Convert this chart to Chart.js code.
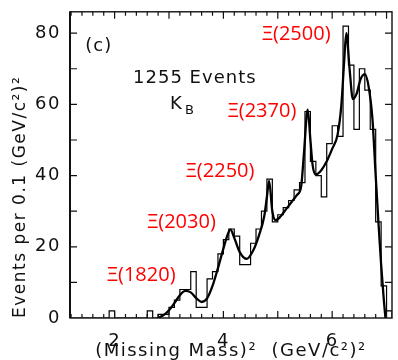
<!DOCTYPE html>
<html>
<head>
<meta charset="utf-8">
<script src="https://cdn.jsdelivr.net/npm/chart.js@4.4.0/dist/chart.umd.min.js"></script>
<style>
  html, body { margin: 0; padding: 0; background: #fff; }
  #wrap { width: 398px; height: 360px; }
</style>
</head>
<body>
<div id="wrap"><canvas id="massChart" width="398" height="360"></canvas></div>
<script>
/* ============= Data: ============= */
// left edge of each 0.1 (GeV/c^2)^2 bin
var binStarts = [1.2, 1.3, 1.4, 1.5, 1.6, 1.7, 1.8, 1.9, 2.0, 2.1,
                 2.2, 2.3, 2.4, 2.5, 2.6, 2.7, 2.8, 2.9, 3.0, 3.1,
                 3.2, 3.3, 3.4, 3.5, 3.6, 3.7, 3.8, 3.9, 4.0, 4.1,
                 4.2, 4.3, 4.4, 4.5, 4.6, 4.7, 4.8, 4.9, 5.0, 5.1,
                 5.2, 5.3, 5.4, 5.5, 5.6, 5.7, 5.8, 5.9, 6.0, 6.1,
                 6.2, 6.3, 6.4, 6.5, 6.6, 6.7, 6.8, 6.9, 7.0];
var binCounts = [0, 0, 0, 0, 0, 0, 0, 2, 0, 0,
                 0, 0, 0, 0, 2, 0, 1, 1, 3, 5,
                 8, 8, 13, 3, 3, 11, 13, 18, 22, 25,
                 23, 15, 15, 21, 25, 30, 39, 27, 29, 31,
                 33, 36, 38, 58, 44, 40, 34, 49, 54, 51,
                 82, 71, 53, 70, 64, 53, 27, 9, 2];
var binWidth = 0.1;

// fitted curve
var fitX = [2.8, 2.9, 3.0, 3.1, 3.2, 3.3, 3.4, 3.5, 3.6, 3.7,
            3.8, 3.9, 4.0, 4.08, 4.13, 4.2, 4.3, 4.43, 4.55, 4.65,
            4.75, 4.8, 4.84, 4.9, 4.96, 5.05, 5.15, 5.25, 5.35, 5.43,
            5.48, 5.55, 5.6, 5.64, 5.7, 5.8, 5.9, 6.0, 6.1, 6.17,
            6.22, 6.26, 6.32, 6.38, 6.45, 6.52, 6.6, 6.67, 6.74, 6.8,
            6.85, 6.9, 6.95, 6.98];
var fitY = [0, 0.8, 2.2, 4.2, 6.4, 7.6, 7.2, 5.6, 4.5, 5.5,
            9, 14, 19.5, 23.5, 24.8, 22.5, 18.5, 16.6, 19, 23,
            28.5, 34, 38.5, 30, 27.5, 28.5, 30.5, 32.5, 34.5, 37,
            46, 58.5, 50, 43, 40.3, 41.5, 44, 47.5, 51.5, 60,
            72, 80, 70, 61.5, 63, 67, 68.5, 65, 56, 40,
            27, 15, 5, 0];

var xTickLabels = [2, 4, 6];
var yTickLabels = [0, 20, 40, 60, 80];

var stateNames = ['\u039E(1820)', '\u039E(2030)', '\u039E(2250)', '\u039E(2370)', '\u039E(2500)'];

var yTitle = 'Events per 0.1 (GeV/c\u00B2)\u00B2';
var xTitle = '(Missing Mass)\u00B2  (GeV/c\u00B2)\u00B2';

/* ============= Build points: ============= */
function histPoints() {
  var pts = [];
  for (var i = 0; i < binStarts.length; i++) {
    pts.push({x: binStarts[i], y: binCounts[i]});
  }
  // close the last bin back down to zero
  var last = binStarts.length - 1;
  pts.push({x: binStarts[last] + binWidth, y: 0});
  return pts;
}

function fitPoints() {
  var pts = [];
  for (var i = 0; i < fitX.length; i++) {
    pts.push({x: fitX[i], y: fitY[i]});
  }
  return pts;
}

/* ============= Plugins: ============= */
var spacedText = {
  id: 'spacedText',
  beforeDraw: function(chart) {
    chart.ctx.letterSpacing = '1.5px';
  }
};

var frameAndTicks = {
  id: 'frameAndTicks',
  afterDatasetsDraw: function(chart) {
    var ctx = chart.ctx, a = chart.chartArea;
    var xs = chart.scales.x, ys = chart.scales.y;
    ctx.save();
    ctx.strokeStyle = '#111';
    ctx.lineWidth = 1.4;
    ctx.strokeRect(a.left, a.top, a.right - a.left, a.bottom - a.top);
    ctx.lineWidth = 2;
    ctx.beginPath();
    ctx.moveTo(a.left, a.top);
    ctx.lineTo(a.left, a.bottom);
    ctx.stroke();

    ctx.lineWidth = 1.2;
    ctx.beginPath();
    // ticks every 0.2 on top and bottom, whole numbers a little longer
    for (var k = 6; k <= 35; k++) {
      var px = xs.getPixelForValue(k / 5);
      var len = (k % 5 === 0) ? 7 : 4;
      ctx.moveTo(px, a.bottom); ctx.lineTo(px, a.bottom - len);
      ctx.moveTo(px, a.top); ctx.lineTo(px, a.top + len);
    }
    for (var j = 1; j <= 8; j++) {
      var py = ys.getPixelForValue(j * 10);
      ctx.moveTo(a.left, py); ctx.lineTo(a.left + 7, py);
      ctx.moveTo(a.right, py); ctx.lineTo(a.right - 7, py);
    }
    ctx.stroke();
    ctx.restore();
  }
};

var notes = {
  id: 'notes',
  afterDraw: function(chart) {
    var ctx = chart.ctx;
    var xs = chart.scales.x, ys = chart.scales.y;
    function at(x, y) { return [xs.getPixelForValue(x), ys.getPixelForValue(y)]; }

    ctx.save();
    ctx.textBaseline = 'middle';
    ctx.textAlign = 'left';
    ctx.fillStyle = '#111';
    ctx.letterSpacing = '1px';
    ctx.font = '18px "DejaVu Sans"';
    var p = at(1.46, 76.2);
    ctx.fillText('(c)', p[0], p[1]);
    p = at(2.34, 67.3);
    ctx.fillText('1255 Events', p[0], p[1]);
    p = at(3.02, 60);
    ctx.fillText('K', p[0], p[1]);
    var kw = ctx.measureText('K').width;
    ctx.font = '13px "DejaVu Sans"';
    ctx.fillText('B', p[0] + kw + 2, p[1] + 6);

    // resonance labels
    var spots = [[1.86, 12], [2.60, 26.8], [3.31, 41.3], [4.08, 58.1], [4.71, 79.6]];
    ctx.fillStyle = '#f00';
    ctx.letterSpacing = '0px';
    ctx.font = '20px "Open Sans"';
    for (var i = 0; i < stateNames.length; i++) {
      p = at(spots[i][0], spots[i][1]);
      ctx.fillText(stateNames[i], p[0], p[1]);
    }
    ctx.restore();
  }
};

/* ============= Chart: ============= */
function drawChart() {
  var ctx = document.getElementById('massChart').getContext('2d');
  var tickFont = {family: '"DejaVu Sans"', size: 18};

  var chart = new Chart(ctx, {
    type: 'line',
    data: {
      datasets: [
        {
          label: 'Events',
          data: histPoints(),
          stepped: 'before',
          borderColor: '#000',
          borderWidth: 1.2,
          pointRadius: 0,
          fill: false
        },
        {
          label: 'Fit',
          data: fitPoints(),
          cubicInterpolationMode: 'monotone',
          borderColor: '#000',
          borderWidth: 2.3,
          pointRadius: 0,
          fill: false
        }
      ]
    },
    options: {
      responsive: false,
      animation: false,
      layout: {padding: {top: 10, right: 6, left: 0, bottom: 0}},
      plugins: {legend: {display: false}, tooltip: {enabled: false}},
      scales: {
        x: {
          type: 'linear',
          min: 1.18,
          max: 7.1,
          grid: {display: false},
          border: {display: false},
          afterBuildTicks: function(scale) {
            scale.ticks = xTickLabels.map(function(v) { return {value: v}; });
          },
          afterFit: function(scale) { scale.height = 42; },
          ticks: {font: tickFont, color: '#111', padding: 5, maxRotation: 0},
          title: {
            display: true,
            text: xTitle,
            font: {family: '"DejaVu Sans"', size: 18},
            color: '#111',
            padding: {top: 0, bottom: -2}
          }
        },
        y: {
          min: 0,
          max: 86,
          grid: {display: false},
          border: {display: false},
          afterBuildTicks: function(scale) {
            scale.ticks = yTickLabels.map(function(v) { return {value: v}; });
          },
          afterFit: function(scale) { scale.width = 70; },
          ticks: {font: tickFont, color: '#111', padding: 1},
          title: {
            display: true,
            text: yTitle,
            align: 'start',
            font: {family: '"DejaVu Sans"', size: 17},
            color: '#111',
            padding: {top: 10, bottom: 0}
          }
        }
      }
    },
    plugins: [spacedText, frameAndTicks, notes]
  });
  return chart;
}

drawChart();
</script>
</body>
</html>
